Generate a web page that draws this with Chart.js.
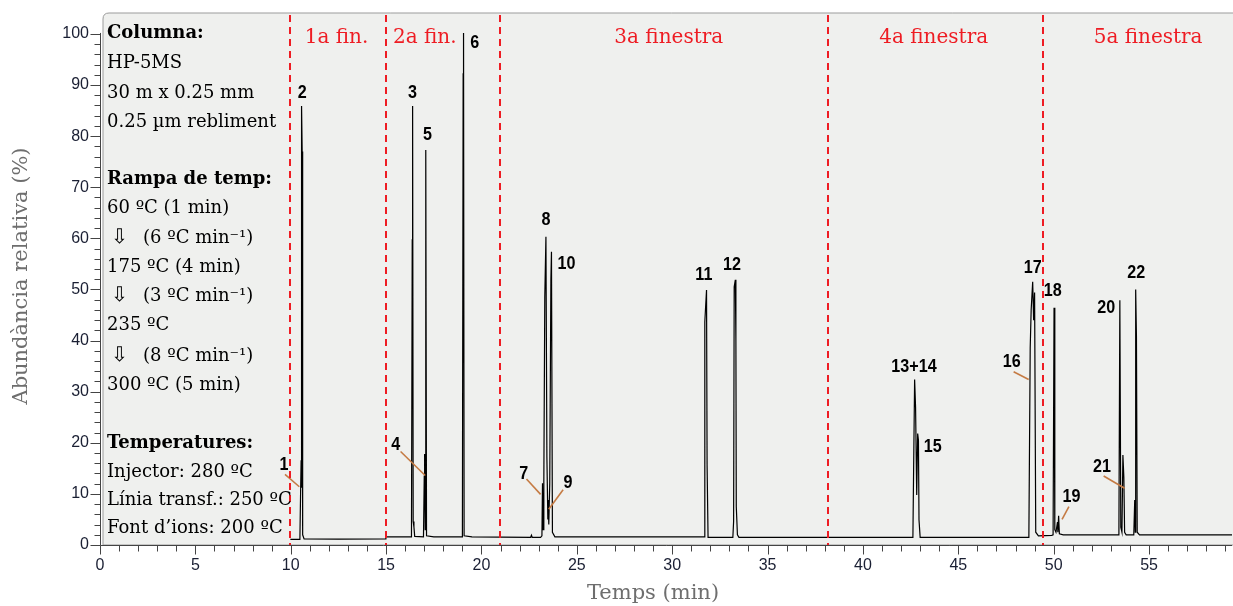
<!DOCTYPE html>
<html>
<head>
<meta charset="utf-8">
<script src="https://cdn.jsdelivr.net/npm/chart.js@4/dist/chart.umd.min.js"></script>
<style>
html,body{margin:0;padding:0;background:#ffffff;}
#wrap{width:1233px;height:606px;position:relative;}
</style>
</head>
<body>
<div id="wrap"><canvas id="c"></canvas></div>
<script>
// ---- data ----
const traceTime = [9.98,10.48,10.52,10.545,10.56,10.575,10.6,10.625,10.7,12.5,14.97,14.99,
  16.33,16.37,16.39,16.42,16.46,16.5,16.96,17.0,17.02,17.05,17.07,17.09,17.12,17.5,
  19.0,19.04,19.06,19.09,19.5,22.58,22.62,22.66,23.1,23.17,23.2,23.23,23.27,23.32,23.38,23.43,23.48,23.5,23.53,23.58,23.64,23.67,23.72,23.85,
  31.68,31.71,31.8,31.83,31.88,33.18,33.22,33.25,33.31,33.34,33.36,33.42,33.5,
  42.62,42.66,42.71,42.76,42.82,42.87,42.91,42.94,43.0,
  48.7,48.77,48.82,48.9,48.95,49.0,49.06,49.2,49.9,49.97,50.02,50.06,50.12,50.2,50.22,50.26,50.3,50.5,
  53.42,53.47,53.52,53.58,53.63,53.68,53.72,53.8,54.2,54.25,54.28,54.3,54.34,54.38,54.5,59.4];
const traceAbund = [1.1,1.1,11.0,16.6,11.2,85.9,77.0,2.0,1.2,1.15,1.2,1.6,
  1.6,59.7,85.9,4.6,3.5,1.7,1.6,13.5,17.8,3.0,61.5,77.3,1.8,1.6,
  1.6,92.2,100.2,1.8,1.6,1.5,1.9,1.5,1.5,1.8,12.1,3.0,12.7,48.5,60.3,17.3,5.0,8.8,4.0,12.1,51.9,57.4,2.5,1.6,
  1.6,43.7,49.9,15.5,1.5,1.5,4.6,50.5,51.9,40.0,7.5,2.0,1.5,
  1.5,15.7,32.4,26.9,9.8,21.8,20.5,4.9,1.5,
  1.5,38.5,46.0,51.5,44.0,49.4,2.5,1.8,1.9,2.0,46.4,3.0,2.5,4.5,2.5,5.7,2.2,2.0,
  2.0,47.9,3.5,2.5,17.6,13.2,2.5,2.0,2.0,8.8,2.5,50.0,40.9,2.5,2.0,2.0];

const peakLabels = ["1","2","3","4","5","6","7","8","9","10","11","12","13+14","15","16","17","18","19","20","21","22"];
const peakLabelTime = [9.64,10.6,16.39,15.51,17.17,19.65,22.22,23.38,24.54,24.46,31.66,33.14,42.68,43.66,47.8,48.9,49.95,50.93,52.76,52.53,54.33];
const peakLabelAbund = [15.7,88.5,88.5,19.6,80.2,98.2,13.9,63.7,12.2,55.1,52.8,54.9,34.8,19.2,35.9,54.2,49.8,9.5,46.5,15.3,53.2];

// leader lines: [t0, a0, t1, a1]
const leader1  = [9.70,13.8,10.45,11.4];
const leader4  = [15.76,18.3,17.05,13.6];
const leader7  = [22.36,12.9,23.1,9.9];
const leader9  = [24.28,10.8,23.53,7.0];
const leader16 = [47.9,33.9,48.69,32.4];
const leader19 = [50.8,7.5,50.44,5.0];
const leader21 = [52.62,13.5,53.72,11.1];

const windowBounds = [9.96,14.97,20.96,38.17,49.44];
const windowNames = ["1a fin.","2a fin.","3a finestra","4a finestra","5a finestra"];
const windowNameTime = [12.4,17.03,29.82,43.71,54.95];
const windowNameAbund = 99.2;

const xTickLabels = [0,5,10,15,20,25,30,35,40,45,50,55];
const yTickLabels = [0,10,20,30,40,50,60,70,80,90,100];
const xTitle = "Temps (min)";
const yTitle = "Abundància relativa (%)";

const infoLines = [
  {t:"Columna:", b:true},
  {t:"HP-5MS"},
  {t:"30 m x 0.25 mm"},
  {t:"0.25 µm rebliment"},
  null,
  {t:"Rampa de temp:", b:true},
  {t:"60 ºC (1 min)"},
  {t:"(6 ºC min⁻¹)", arrow:true},
  {t:"175 ºC (4 min)"},
  {t:"(3 ºC min⁻¹)", arrow:true},
  {t:"235 ºC"},
  {t:"(8 ºC min⁻¹)", arrow:true},
  {t:"300 ºC (5 min)"},
  null,
  {t:"Temperatures:", b:true},
  {t:"Injector: 280 ºC"},
  {t:"Línia transf.: 250 ºC"},
  {t:"Font d’ions: 200 ºC"}
];
const infoY = [33,63,93,122,null,179,208,238,267,296,325,356,385,null,443,472,500,528];

// ---- build datasets ----
const tracePts = traceTime.map((t,i)=>({x:t,y:traceAbund[i]}));
const leaders = [leader1,leader4,leader7,leader9,leader16,leader19,leader21];
const datasets = [{
  data: tracePts, borderColor:'#000000', borderWidth:1.2, pointRadius:0, tension:0, fill:false, order:1
}];
leaders.forEach(l=>datasets.push({
  data:[{x:l[0],y:l[1]},{x:l[2],y:l[3]}], borderColor:'#c57b44', borderWidth:1.6, pointRadius:0, fill:false, order:0
}));

const SERIF = '"DejaVu Serif", "Liberation Serif", serif';
const SANS = '"Liberation Sans", Arial, sans-serif';

const deco = {
  id:'deco',
  beforeDraw(chart){
    const {ctx, chartArea:a} = chart;
    ctx.save();
    ctx.fillStyle='#ffffff';
    ctx.fillRect(0,0,chart.width,chart.height);
    const l=a.left+3, t=a.top, r=a.right+2, b=a.bottom, rad=6;
    ctx.beginPath();
    ctx.moveTo(l+rad,t); ctx.lineTo(r,t); ctx.lineTo(r,b); ctx.lineTo(l,b); ctx.lineTo(l,t+rad);
    ctx.quadraticCurveTo(l,t,l+rad,t); ctx.closePath();
    ctx.fillStyle='#eff0ee'; ctx.fill();
    ctx.strokeStyle='#9b9b9b'; ctx.lineWidth=1; ctx.stroke();
    ctx.restore();
  },
  afterDatasetsDraw(chart){
    const {ctx, chartArea:a, scales:{x,y}} = chart;
    ctx.save();
    ctx.strokeStyle='#ee1c23'; ctx.lineWidth=2; ctx.setLineDash([7,5]);
    windowBounds.forEach(v=>{
      const px=Math.round(x.getPixelForValue(v));
      ctx.beginPath(); ctx.moveTo(px,a.top+2); ctx.lineTo(px,a.bottom); ctx.stroke();
    });
    ctx.setLineDash([]);
    ctx.fillStyle='#ee1c23'; ctx.font='20px '+SERIF; ctx.textAlign='center'; ctx.textBaseline='middle';
    windowNames.forEach((n,i)=>ctx.fillText(n, x.getPixelForValue(windowNameTime[i]), y.getPixelForValue(windowNameAbund)));
    ctx.fillStyle='#000000'; ctx.font='bold 17px '+SANS;
    peakLabels.forEach((n,i)=>{
      const px=x.getPixelForValue(peakLabelTime[i]), py=y.getPixelForValue(peakLabelAbund[i]);
      ctx.save(); ctx.translate(px,py); ctx.scale(0.95,1.12); ctx.fillText(n,0,0); ctx.restore();
    });
    ctx.textAlign='left'; ctx.fillStyle='#000000';
    infoLines.forEach((ln,i)=>{
      if(!ln) return;
      const yy=infoY[i], xx=a.left+7;
      if(ln.arrow){
        ctx.font='20px "DejaVu Sans", sans-serif';
        ctx.fillText('⇩', xx+4, yy);
        ctx.font='18px '+SERIF;
        ctx.fillText(ln.t, xx+36, yy);
      } else {
        ctx.font=(ln.b?'bold ':'')+'18px '+SERIF;
        ctx.fillText(ln.t, xx, yy);
      }
    });
    ctx.strokeStyle='#444444'; ctx.lineWidth=1;
    const ax=a.left+0.5, ay=a.bottom+0.5;
    ctx.beginPath(); ctx.moveTo(ax, y.getPixelForValue(100)-1); ctx.lineTo(ax, ay); ctx.lineTo(a.right, ay); ctx.stroke();
    ctx.beginPath();
    for(let v=0; v<=100; v+=2){
      const py=Math.round(y.getPixelForValue(v))+0.5;
      const len = (v%10===0)?10:6;
      ctx.moveTo(ax-len,py); ctx.lineTo(ax,py);
    }
    for(let v=0; v<=59; v+=1){
      const px=Math.round(x.getPixelForValue(v))+0.5;
      const len = (v%5===0)?9:6;
      ctx.moveTo(px,ay); ctx.lineTo(px,ay+len);
    }
    ctx.stroke();
    ctx.fillStyle='#1a1f33'; ctx.font='16px '+SANS;
    ctx.textAlign='right'; ctx.textBaseline='middle';
    yTickLabels.forEach(v=>ctx.fillText(String(v), a.left-11, y.getPixelForValue(v)));
    ctx.textAlign='center';
    xTickLabels.forEach(v=>ctx.fillText(String(v), x.getPixelForValue(v), a.bottom+21));
    ctx.fillStyle='#6e6e6e'; ctx.font='21px '+SERIF;
    ctx.fillText(xTitle, 653, 594);
    ctx.save(); ctx.translate(22, 276); ctx.rotate(-Math.PI/2); ctx.fillText(yTitle,0,0); ctx.restore();
    ctx.restore();
  }
};

new Chart(document.getElementById('c'), {
  type:'line',
  data:{datasets},
  options:{
    responsive:true, maintainAspectRatio:false, animation:false, devicePixelRatio:1,
    layout:{padding:{left:100, top:13, right:1, bottom:61}},
    plugins:{legend:{display:false}, tooltip:{enabled:false}},
    scales:{
      x:{type:'linear', min:0, max:59.35, display:false},
      y:{type:'linear', min:0, max:104.1, display:false}
    }
  },
  plugins:[deco]
});
</script>
</body>
</html>
